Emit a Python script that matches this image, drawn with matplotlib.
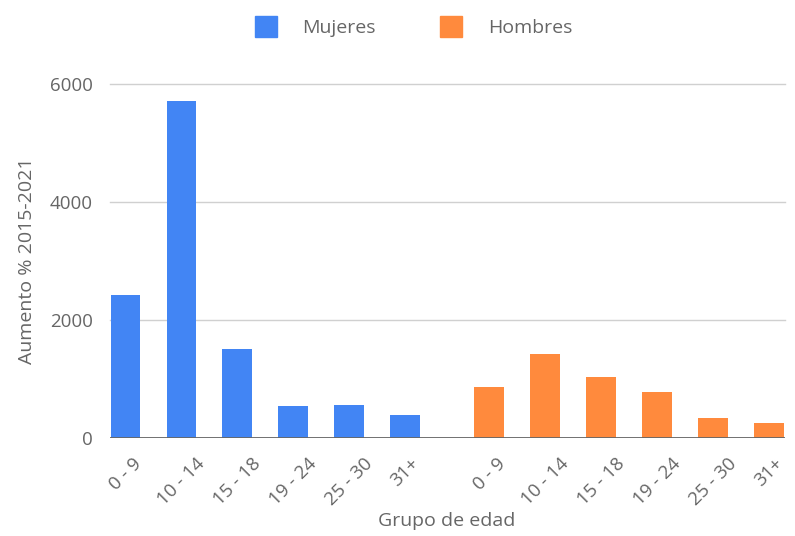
import matplotlib

matplotlib.use("Agg")
import matplotlib.pyplot as plt
import numpy as np
from matplotlib.patches import Patch

AGE_GROUPS = ["0 - 9", "10 - 14", "15 - 18", "19 - 24", "25 - 30", "31+"]
MUJERES = [2420, 5720, 1510, 540, 560, 390]
HOMBRES = [860, 1420, 1040, 780, 340, 250]
SERIES_NAMES = ["Mujeres", "Hombres"]

BLUE = "#4285F4"
ORANGE = "#FF8A3D"
TEXT = "#666666"

plt.rcParams["font.family"] = ["Open Sans", "DejaVu Sans"]

fig = plt.figure(figsize=(7.95, 5.36), dpi=100)
ax = fig.add_axes([0.138, 0.183, 0.849, 0.66])

n = len(AGE_GROUPS)
x_m = np.arange(n)
x_h = np.arange(n) + n + 0.5
width = 0.53

ax.bar(x_m, MUJERES, width=width, color=BLUE, zorder=3)
ax.bar(x_h, HOMBRES, width=width, color=ORANGE, zorder=3)

ax.set_xlim(-0.28, x_h[-1] + 0.28)
ax.set_ylim(0, 6000)
ax.set_yticks([0, 2000, 4000, 6000])
ax.set_yticklabels(["0", "2000", "4000", "6000"])
ax.set_xticks(np.concatenate([x_m, x_h]))
ax.set_xticklabels(AGE_GROUPS * 2, rotation=45, ha="center", va="top")

for s in ax.spines.values():
    s.set_visible(False)
ax.axhline(0, color="#666666", lw=1.3, zorder=4)
for y in (2000, 4000, 6000):
    ax.axhline(y, color="#d0d0d0", lw=1, zorder=1, clip_on=False)

ax.tick_params(axis="both", length=0, labelsize=13.5, colors=TEXT)
ax.tick_params(axis="y", pad=12)
ax.tick_params(axis="x", pad=12)

ax.set_xlabel("Grupo de edad", fontsize=14, color=TEXT, labelpad=2)
ax.set_ylabel("Aumento % 2015-2021", fontsize=14, color=TEXT, labelpad=10)

handles = [Patch(color=BLUE), Patch(color=ORANGE)]
fig.legend(handles, SERIES_NAMES, loc="center", bbox_to_anchor=(0.52, 0.95),
           ncol=2, frameon=False, fontsize=14, labelcolor=TEXT,
           handlelength=1.15, handleheight=1.25, handletextpad=1.3, columnspacing=3.3)

fig.savefig("out.png", dpi=100)
